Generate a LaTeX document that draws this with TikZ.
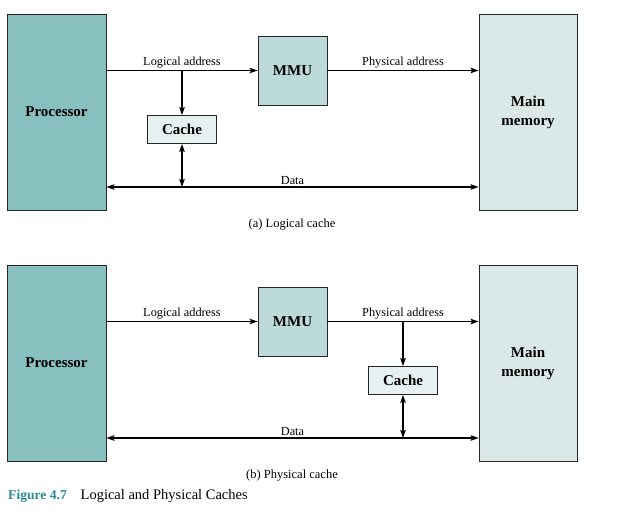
\documentclass[tikz,border=0pt]{standalone}
\usepackage{fontspec}
\setmainfont{Liberation Serif}
\usepackage{xcolor}
\usetikzlibrary{arrows.meta, positioning}

\definecolor{procteal}{HTML}{88BFBF}
\definecolor{memfill}{HTML}{DAE8E8}
\definecolor{mmufill}{HTML}{BCDADA}
\definecolor{cachefill}{HTML}{E6F0F0}
\definecolor{figteal}{HTML}{2A8C8E}

\begin{document}
\begin{tikzpicture}[x=1pt, y=-1pt]
    \tikzstyle{unit} = [rectangle, draw=black!85, line width=0.8pt, minimum width=99pt, minimum height=196pt, text centered, font=\bfseries\fontsize{15}{19}\selectfont]
    \tikzstyle{mmu} = [rectangle, draw=black!85, line width=0.8pt, minimum width=69pt, minimum height=69pt, fill=mmufill, font=\bfseries\fontsize{15}{18}\selectfont]
    \tikzstyle{cache} = [rectangle, draw=black!85, line width=0.8pt, minimum width=69pt, minimum height=28pt, fill=cachefill, font=\bfseries\fontsize{15}{18}\selectfont]
    \tikzstyle{lbl} = [font=\fontsize{12.3}{14}\selectfont, above, inner sep=1.2pt]
    \tikzstyle{arrow} = [line width=1.4pt, -{Stealth[length=8pt, width=5.5pt, inset=1.5pt]}]
    \tikzstyle{darrow} = [line width=1.4pt, {Stealth[length=8pt, width=5.5pt, inset=1.5pt]}-{Stealth[length=8pt, width=5.5pt, inset=1.5pt]}]

    \useasboundingbox (0,0) rectangle (626,521);

    % (a) logical cache
    \node (proca) [unit, fill=procteal] at (56.5,112) {Processor};
    \node (mema) [unit, fill=memfill, minimum width=98pt, align=center] at (528,112) {Main\\memory};
    \node (mmua) [mmu] at (292.5,70.5) {MMU};
    \node (cachea) [cache] at (182,129.5) {Cache};
    \coordinate (dataa) at (182,187);

    \draw [arrow] (mmua.west -| proca.east) -- node[lbl] {Logical address} (mmua.west);
    \draw [arrow] (mmua.east) -- node[lbl] {Physical address} (mmua.east -| mema.west);
    \draw [arrow] (mmua.west -| cachea) -- (cachea.north);
    \draw [darrow] (cachea.south) -- (dataa);
    \draw [darrow] (dataa -| proca.east) -- node[lbl] {Data} (dataa -| mema.west);
    \node (capa) [font=\fontsize{12.5}{14}\selectfont] at (292,225) {(a) Logical cache};

    % (b) physical cache
    \node (procb) [unit, fill=procteal] at (56.5,363) {Processor};
    \node (memb) [unit, fill=memfill, minimum width=98pt, align=center] at (528,363) {Main\\memory};
    \node (mmub) [mmu] at (292.5,321.5) {MMU};
    \node (cacheb) [cache] at (403,380.5) {Cache};
    \coordinate (datab) at (403,438);

    \draw [arrow] (mmub.west -| procb.east) -- node[lbl] {Logical address} (mmub.west);
    \draw [arrow] (mmub.east) -- node[lbl] {Physical address} (mmub.east -| memb.west);
    \draw [arrow] (mmub.east -| cacheb) -- (cacheb.north);
    \draw [darrow] (cacheb.south) -- (datab);
    \draw [darrow] (datab -| procb.east) -- node[lbl] {Data} (datab -| memb.west);
    \node (capb) [font=\fontsize{12.5}{14}\selectfont] at (292,476) {(b) Physical cache};

    \node (fig) [anchor=west, inner sep=0pt, font=\fontsize{14.5}{16}\selectfont] at (8,496) {\textcolor{figteal}{\fontsize{13.6}{16}\selectfont\textbf{Figure 4.7}}\hspace{0.95em}Logical and Physical Caches};
\end{tikzpicture}
\end{document}
